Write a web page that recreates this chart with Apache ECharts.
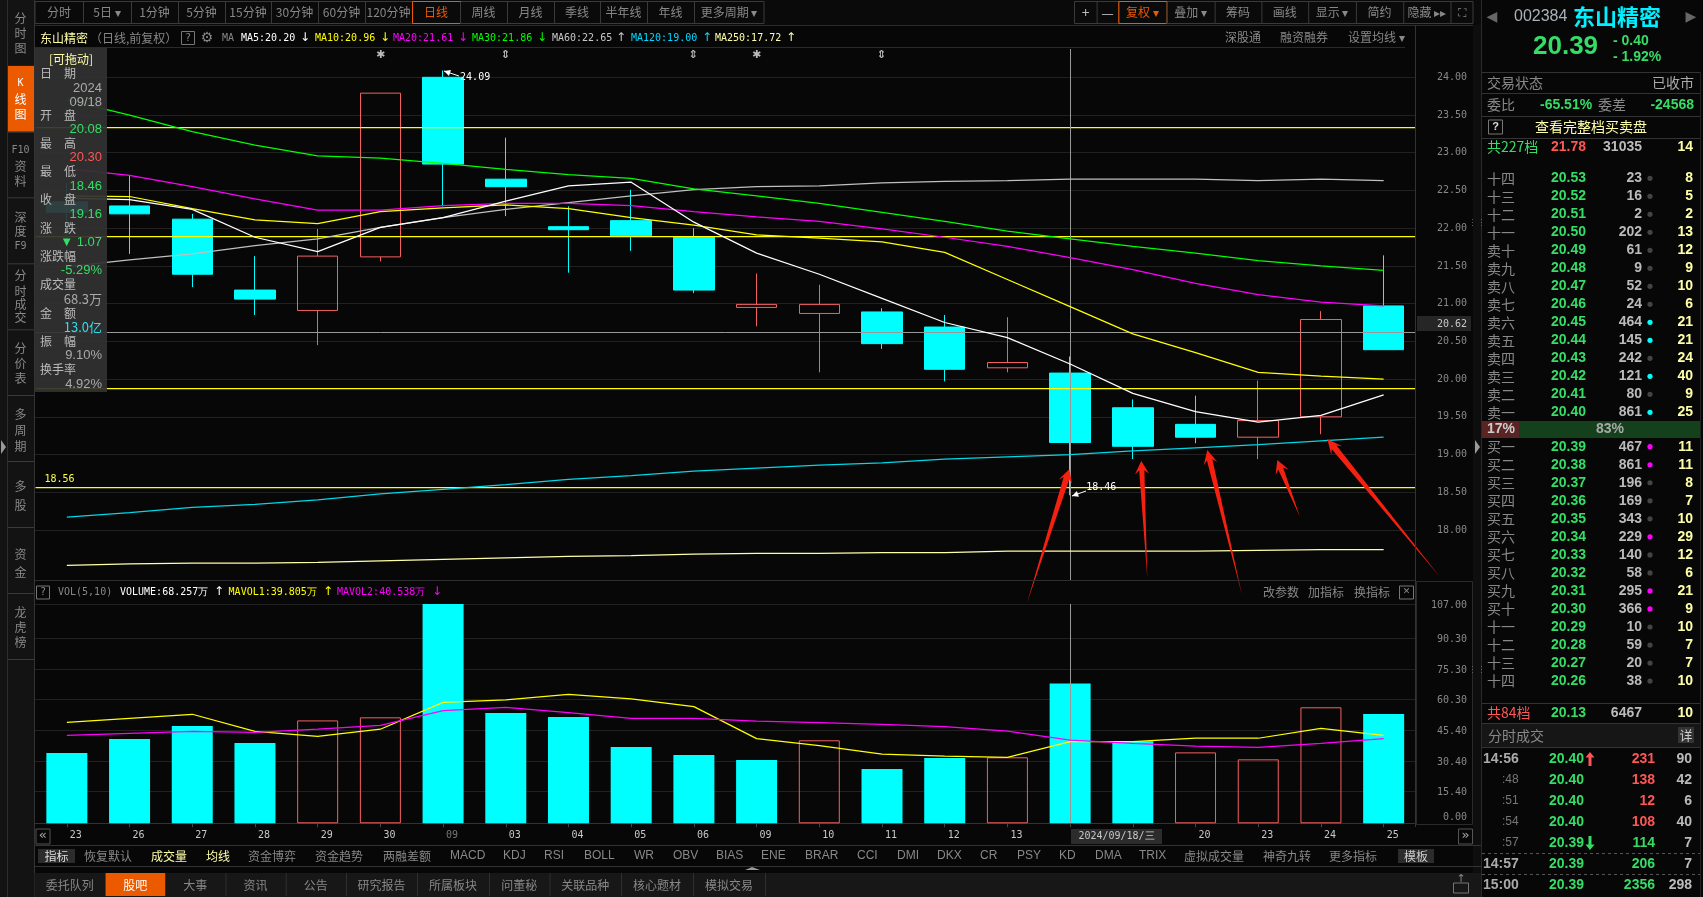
<!DOCTYPE html>
<html>
<head>
<meta charset="utf-8">
<title>东山精密 K线图</title>
<style>html,body{margin:0;padding:0;background:#070707;overflow:hidden}#c{width:1703px;height:897px}</style>
<script src="https://cdn.jsdelivr.net/npm/echarts@6/dist/echarts.min.js"></script>
</head>
<body>
<div id="c"></div>
<script>
// ---------- chart data ----------
const dates = ['23','26','27','28','29','30','09','03','04','05','06','09','10','11','12','13','18','19','20','23','24','25'];
const opens  = [22.35,22.295,22.12,21.18,20.91,21.62,24.00,22.65,22.02,22.10,21.88,20.95,20.87,20.89,20.69,20.15,20.08,19.62,19.40,19.23,19.50,20.97];
const closes = [22.21,22.19,21.39,21.06,21.63,23.79,22.85,22.55,21.98,21.90,21.18,20.99,20.99,20.47,20.13,20.22,19.16,19.11,19.23,19.45,20.79,20.39];
const lows   = [21.90,21.66,21.22,20.85,20.45,21.56,22.29,22.16,21.41,21.70,21.14,20.70,20.09,20.40,19.97,20.09,18.46,18.94,19.15,18.94,19.27,20.39];
const highs  = [22.60,22.70,22.19,21.63,21.99,23.79,24.09,23.20,22.29,22.51,22.00,21.40,21.25,20.94,20.85,20.82,20.30,19.73,19.78,19.98,20.90,21.64];
const ma5    = [22.40,22.38,22.25,21.88,21.69,22.01,22.14,22.36,22.56,22.61,22.08,21.67,21.39,21.07,20.75,20.55,20.20,19.81,19.57,19.43,19.52,19.79];
const ma10   = [22.43,22.42,22.26,22.11,22.06,22.22,22.27,22.31,22.26,22.14,22.04,21.91,21.87,21.82,21.68,21.32,20.96,20.60,20.35,20.09,20.04,20.00];
const ma20   = [22.79,22.70,22.55,22.39,22.24,22.24,22.30,22.33,22.33,22.30,22.22,22.15,22.09,21.99,21.88,21.76,21.61,21.45,21.27,21.12,21.02,20.97];
const ma30   = [23.70,23.50,23.28,23.10,22.96,22.93,22.86,22.78,22.71,22.66,22.52,22.43,22.33,22.21,22.09,21.96,21.86,21.76,21.67,21.57,21.50,21.44];
const ma60   = [21.49,21.58,21.66,21.77,21.86,22.01,22.14,22.25,22.34,22.43,22.51,22.55,22.56,22.60,22.62,22.63,22.65,22.65,22.65,22.63,22.65,22.63];
const ma120  = [18.17,18.23,18.30,18.34,18.40,18.48,18.54,18.60,18.67,18.72,18.78,18.82,18.86,18.89,18.94,18.97,19.00,19.05,19.09,19.13,19.18,19.23];
const ma250  = [17.53,17.55,17.56,17.56,17.57,17.59,17.61,17.63,17.65,17.66,17.68,17.69,17.69,17.70,17.70,17.72,17.72,17.72,17.72,17.73,17.74,17.74];
const volumes = [34.3,41.1,47.5,39.2,50.2,51.7,107,53.8,51.9,37.2,33.3,30.9,40.5,26.5,31.9,32.2,68.257,40.0,34.6,31.2,56.6,53.3];
const volumeRise = [0,0,0,0,1,1,0,0,0,0,0,0,1,0,0,1,0,0,1,1,1,0];
const mavol1  = [49.3,51.2,53.2,44.9,42.4,45.9,59.0,60.2,62.9,60.7,56.9,41.3,37.9,33.7,32.8,32.2,39.805,39.8,41.5,41.5,46.3,42.9];
const mavol2  = [42.9,43.9,44.9,44.4,46.0,47.8,55.0,56.6,54.0,51.2,51.2,49.9,49.1,48.3,47.2,45.0,40.538,39.0,37.6,37.1,39.0,41.3];
const priceTicks = [18,18.5,19,19.5,20,20.5,21,21.5,22,22.5,23,23.5,24];
const volTicks = [0,15.4,30.4,45.4,60.3,75.3,90.3,107];
const priceLevels = [23.34,21.89,19.88,18.56];
const lastPrice = 20.62;
const hoverIndex = 16, topIndex = 6;

// ---------- UI text tables ----------
const periodTabs = ['分时','5日 ▾','1分钟','5分钟','15分钟','30分钟','60分钟','120分钟','日线','周线','月线','季线','半年线','年线','更多周期 ▾'];
const toolTabs = ['+','—','复权 ▾','叠加 ▾','筹码','画线','显示 ▾','简约','隐藏 ▸▸','⛶'];
const sideTabs = ['分时图','K线图','F10资料','深度F9','分时成交','分价表','多周期','多股','资金','龙虎榜'];
const infoRows = [['日　期','2024','09/18'],['开　盘','20.08'],['最　高','20.30'],['最　低','18.46'],['收　盘','19.16'],['涨　跌','▼ 1.07'],['涨跌幅','-5.29%'],['成交量','68.3万'],['金　额','13.0亿'],['振　幅','9.10%'],['换手率','4.92%']];
const indicatorTabs = ['恢复默认','成交量','均线','资金博弈','资金趋势','两融差额','MACD','KDJ','RSI','BOLL','WR','OBV','BIAS','ENE','BRAR','CCI','DMI','DKX','CR','PSY','KD','DMA','TRIX','虚拟成交量','神奇九转','更多指标'];
const bottomTabs = ['委托队列','股吧','大事','资讯','公告','研究报告','所属板块','问董秘','关联品种','核心题材','模拟交易'];
const sellNames = ['十四','十三','十二','十一','卖十','卖九','卖八','卖七','卖六','卖五','卖四','卖三','卖二','卖一'];
const sellPrices = ['20.53','20.52','20.51','20.50','20.49','20.48','20.47','20.46','20.45','20.44','20.43','20.42','20.41','20.40'];
const sellVols = ['23','16','2','202','61','9','52','24','464','145','242','121','80','861'];
const sellCounts = ['8','5','2','13','12','9','10','6','21','21','24','40','9','25'];
const sellLit = [0,0,0,0,0,0,0,0,1,1,0,1,0,1];
const buyNames = ['买一','买二','买三','买四','买五','买六','买七','买八','买九','买十','十一','十二','十三','十四'];
const buyPrices = ['20.39','20.38','20.37','20.36','20.35','20.34','20.33','20.32','20.31','20.30','20.29','20.28','20.27','20.26'];
const buyVols = ['467','861','196','169','343','229','140','58','295','366','10','59','20','38'];
const buyCounts = ['11','11','8','7','10','29','12','6','21','9','10','7','7','10'];
const buyLit = [1,1,0,0,0,1,0,0,1,1,0,0,0,0];
const tradeTimes = ['14:56',':48',':51',':54',':57','14:57','15:00'];
const tradePrices = ['20.40','20.40','20.40','20.40','20.39','20.39','20.39'];
const tradeVols = ['231','138','12','108','114','206','2356'];
const tradeCounts = ['90','42','6','40','7','7','298'];
const tradeUp = [1,1,1,1,0,0,0];

// ---------- colours / fonts ----------
const BG='#070707', UP='#f46060', DOWN='#00ffff', GREEN='#35dd66', RED='#ff5555', PALE='#ffffa8', GRAY='#888888', LINE='#333333';
const CJK='"Noto Sans CJK SC"', LAT='"Liberation Sans"', MONO='"DejaVu Sans Mono"';
const gridL=35.5, gridR=1415, pTop=49, pBot=580, vTop=604, vBot=823.3;

// ---------- chrome helpers ----------
const els=[];
const rect=(x,y,w,h,fill,stroke)=>els.push({type:'rect',z:100,silent:true,shape:{x,y,width:w,height:h},style:{fill:fill||'none',stroke:stroke||null,lineWidth:1}});
const hl=(x1,x2,y,c)=>rect(x1,y,x2-x1,1,c||LINE);
const vl=(x,y1,y2,c)=>rect(x,y1,1,y2-y1,c||LINE);
const txt=(x,y,s,c,size,font,align,weight)=>els.push({type:'text',z:101,silent:true,x,y,style:{text:s,fill:c||GRAY,font:(weight||'normal')+' '+(size||12)+'px '+(font||CJK),textAlign:align||'left',textVerticalAlign:'middle',align:align||'left',verticalAlign:'middle'}});
const dot=(x,y,c)=>els.push({type:'circle',z:101,silent:true,shape:{cx:x,cy:y,r:2.6},style:{fill:c}});
const poly=(pts,c,z)=>els.push({type:'polygon',z:z||90,silent:true,shape:{points:pts},style:{fill:c}});
function arrow(tip,tail,barb,head,shaft){
  const dx=tail[0]-tip[0],dy=tail[1]-tip[1],l=Math.hypot(dx,dy),ux=dx/l,uy=dy/l,nx=-uy,ny=ux;
  const at=(d,s)=>[tip[0]+ux*d+nx*s,tip[1]+uy*d+ny*s];
  poly([tip,at(head,barb),at(head*0.72,shaft),tail,at(head*0.72,-shaft),at(head,-barb)],'#f5200f');
}
function tinyArrow(x1,y1,x2,y2){ // white leader with small head at x2,y2
  els.push({type:'line',z:101,silent:true,shape:{x1,y1,x2,y2},style:{stroke:'#fff',lineWidth:1}});
  const a=Math.atan2(y1-y2,x1-x2);
  poly([[x2,y2],[x2+7*Math.cos(a-0.45),y2+7*Math.sin(a-0.45)],[x2+7*Math.cos(a+0.45),y2+7*Math.sin(a+0.45)]],'#fff');
}
function fatArrow(x,y,dir,c){ // dir -1 = up, +1 = down
  poly([[x,y+7*dir],[x-4.5,y+1.5*dir],[x-1.5,y+1.5*dir],[x-1.5,y-7*dir],[x+1.5,y-7*dir],[x+1.5,y+1.5*dir],[x+4.5,y+1.5*dir]],c,102);
}

// --- red hand-drawn arrows over the chart
arrow([1069.3,469.3],[1027,603],7,13,3);
arrow([1141.3,461],[1147.3,578],7,13,2.6);
arrow([1207.3,450],[1242,595],7,14,2.8);
arrow([1277.3,460],[1300,517],7,13,2.6);
arrow([1327.3,439],[1440,577],7,15,3);
tinyArrow(459,76,444,71);
tinyArrow(1086,491,1072,496);

// --- event markers above the candles
[[380.6,'✱'],[505.6,'⇕'],[693.4,'⇕'],[756.6,'✱'],[881.5,'⇕']].forEach(m=>txt(m[0],55,m[1],'#bbbbbb',11,'"DejaVu Sans"','center','bold'));

// --- top toolbar
rect(0,0,1703,25,'#0a0a0a');
hl(0,1481,25,'#2a2a2a');
const periodEdges=[35,83,131,178,225,271,318,365,412,460,507,554,600,647,694,764];
rect(35,1.5,729,22,null,'#3a3a3a');
periodTabs.forEach((s,i)=>{
  const a=periodEdges[i],b=periodEdges[i+1];
  if(i>0) vl(a,2,24,'#3a3a3a');
  if(s==='日线') rect(a+.5,1.5,b-a,22,null,'#ec5a00');
  txt((a+b)/2,12.5,s,s==='日线'?'#ec5a00':GRAY,12,CJK,'center');
});
const toolEdges=[1074.5,1096.6,1118.3,1166.4,1214.6,1261.4,1308.2,1355.9,1403.2,1450.5,1473];
rect(1074.5,1.5,398.5,22,null,'#3a3a3a');
toolTabs.forEach((s,i)=>{
  const a=toolEdges[i],b=toolEdges[i+1];
  if(i>0) vl(a,2,24,'#3a3a3a');
  if(s.startsWith('复权')) rect(a+.5,1.5,b-a,22,null,'#ec5a00');
  txt((a+b)/2,12.5,s,s.startsWith('复权')?'#ec5a00':(i<2?'#bbbbbb':GRAY),i<2?14:12,CJK,'center');
});

// --- left sidebar
rect(0,0,34.5,897,'#131313');
vl(7,0,897,'#2e2e2e');
vl(34,0,897,'#333333');
const sideY=[[18,33,48],[83,99,114],[150,166,181],[217,231,246],[275,291,304,317],[348,363,378],[414,430,446],[486,505],[554,572],[612,627,642]];
[65.7,131.7,197.3,263.3,329.3,395,461,527,593,659].forEach(y=>hl(8,34,y,'#3a3a3a'));
rect(8,66,26,65.5,'#ec5a00');
sideTabs.forEach((s,i)=>{
  let chars=Array.from(s);
  if(s==='F10资料') chars=['F10','资','料'];
  if(s==='深度F9') chars=['深','度','F9'];
  chars.forEach((c,j)=>txt(20.5,sideY[i][j],c,i===1?'#ffffff':GRAY,/[A-Z0-9]/.test(c)?10:12,/[A-Z0-9]/.test(c)?MONO:CJK,'center'));
});
poly([[1,440],[6,447],[1,454]],'#9a9a9a',102);

// --- chart header rows
txt(40,38,'东山精密',PALE,12);
txt(90,38,'（日线,前复权）',GRAY,12);
rect(181.5,31.5,13,13,null,'#777');txt(188,38,'?',GRAY,10,MONO,'center');
txt(207,38,'⚙',GRAY,14,'"DejaVu Sans"','center');
txt(222,38,'MA',GRAY,10,MONO);
[[241,'MA5:20.20','#ffffff',305,'↓'],[315,'MA10:20.96','#ffff00',385,'↓'],[393,'MA20:21.61','#ff00ff',463,'↓'],[472,'MA30:21.86','#00ff00',542,'↓'],[552,'MA60:22.65','#c8c8c8',621,'↑'],[631,'MA120:19.00','#00d8ff',707,'↑'],[715,'MA250:17.72','#ffffa8',791,'↑']].forEach(m=>{
  txt(m[0],38,m[1],m[2],10,MONO);txt(m[3],38,m[4],m[2],12,'"DejaVu Sans"','center');
});
txt(1225,37,'深股通',GRAY,12);txt(1280,37,'融资融券',GRAY,12);txt(1348,37,'设置均线 ▾',GRAY,12);
hl(35,1405,47,'#2a2a2a');

// --- volume pane header
hl(35,1415,580,'#2e2e2e');
rect(36.5,586,13,13,null,'#777');txt(43,592.5,'?',GRAY,10,MONO,'center');
txt(58,592,'VOL(5,10)',GRAY,10,MONO);
[[120,'VOLUME:68.257万','#ffffff',219,'↑'],[228.6,'MAVOL1:39.805万','#ffff00',328,'↑'],[337,'MAVOL2:40.538万','#ff00ff',437,'↓']].forEach(m=>{
  txt(m[0],592,m[1],m[2],10,MONO);txt(m[3],592,m[4],m[2],12,'"DejaVu Sans"','center');
});
txt(1263,592,'改参数',GRAY,12);txt(1308,592,'加指标',GRAY,12);txt(1354,592,'换指标',GRAY,12);
rect(1399.5,586,14,13,null,'#777');txt(1406.5,592,'✕',GRAY,9,'"DejaVu Sans"','center');

// --- axis column frames
vl(1415,25,827,'#333333');
rect(1416.5,581.5,56,243,null,'#2a2a2a');
rect(1473,25,8,872,'#0e0e0e');
vl(1481,0,897,'#2a2a2a');
[224,671].forEach(y=>txt(1477,y,'⋮⋮','#666',9,MONO,'center'));
poly([[1475,440],[1480,447],[1475,454]],'#9a9a9a',102);

// --- last price tag + hover date tag
rect(1417,316,54,15,'#262626');
txt(1467,324,lastPrice.toFixed(2),'#c8c8c8',10,MONO,'right');
rect(1071,829,91,15,'#2c2c2c');
txt(1116.5,836.5,'2024/09/18/三','#c8c8c8',10,MONO,'center');

// --- paging buttons
rect(36,829,14,15,null,'#555');txt(43,836,'«','#aaa',13,MONO,'center');
rect(1458.5,829,14,15,null,'#555');txt(1465.5,836,'»','#aaa',13,MONO,'center');

// --- indicator tabs
hl(35,1481,845,'#333');hl(35,1481,866,'#333');
rect(38,849,37,14,'#2c2c2c');txt(56.5,856,'指标','#dddddd',12,CJK,'center');
const indicatorX=[84,151,206,248,315,383,450,503,544,584,634,673,716,761,805,857,897,937,980,1017,1059,1095,1139,1184,1263,1329];
indicatorTabs.forEach((s,i)=>{
  const c=(s==='成交量'||s==='均线')?PALE:GRAY;
  txt(indicatorX[i],856,s,c,12,/[A-Z]/.test(s)?LAT:CJK);
});
rect(1398,849,36,14,'#2c2c2c');txt(1416,856,'模板','#cccccc',12,CJK,'center');

// --- bottom tabs
rect(34.5,873,1446.5,24,'#171717');
const bottomEdges=[34,105.6,165,225.5,285.7,346,417,489,549.5,621,693,765];
bottomTabs.forEach((s,i)=>{
  const a=bottomEdges[i],b=bottomEdges[i+1];
  if(s==='股吧') rect(a,873,b-a,23,'#ec5a00');
  vl(b,873,896,'#2e2e2e');
  txt((a+b)/2,885,s,s==='股吧'?'#ffffff':GRAY,12,CJK,'center');
});
rect(1453.5,883,15,10,null,'#777');txt(1461,879,'↑','#888',11,'"DejaVu Sans"','center');
poly([[745,870],[760,870],[752,867]],'#999',102);

// --- info panel (translucent, on top of the plot)
rect(35,48,72,344,'rgba(50,50,50,0.93)');
txt(71,59,'[可拖动]',PALE,12,CJK,'center');
txt(40,73,infoRows[0][0],'#bbbbbb',12);
txt(102,88,'2024','#aaaaaa',13,LAT,'right');
txt(102,102,'09/18','#aaaaaa',13,LAT,'right');
const infoColors=[,GREEN,RED,GREEN,GREEN,GREEN,GREEN,'#aaaaaa','#33ddee','#aaaaaa','#aaaaaa'];
infoRows.slice(1).forEach((r,i)=>{
  const y=115+i*28.3;
  txt(40,y,r[0],'#bbbbbb',12);
  txt(102,y+14.4,r[1],infoColors[i+1],13,/[万亿]/.test(r[1])?CJK:LAT,'right');
});

// --- right order-book panel
rect(1482,0,221,897,BG);
txt(1492,17,'◀','#666',14,'"DejaVu Sans"','center');
txt(1514,17,'002384','#aab0bb',16,LAT);
txt(1573,17,'东山精密','#00f0ff',22,CJK,'left','bold');
txt(1691,17,'▶','#666',14,'"DejaVu Sans"','center');
txt(1533,47,'20.39',GREEN,26,LAT,'left','bold');
txt(1613,41,'- 0.40',GREEN,14,LAT,'left','bold');
txt(1613,57,'- 1.92%',GREEN,14,LAT,'left','bold');
[72,93,116,138,703].forEach(y=>hl(1482,1700,y,'#333'));
vl(1700,72,897,'#222');
txt(1487,83,'交易状态',GRAY,14);txt(1694,83,'已收市','#aaaaaa',14,CJK,'right');
txt(1487,105,'委比',GRAY,14);txt(1540,105,'-65.51%',GREEN,14,LAT,'left','bold');
txt(1598,105,'委差',GRAY,14);txt(1694,105,'-24568',GREEN,14,LAT,'right','bold');
rect(1488.5,120,14,14,null,'#777');txt(1495.5,127,'?','#dddddd',11,LAT,'center','bold');
txt(1535,127,'查看完整档买卖盘',PALE,14);
const bookRow=(y,name,nameC,price,priceC,vol,cnt)=>{
  txt(1487,y,name,nameC,14);txt(1551,y,price,priceC,14,LAT,'left','bold');
  txt(1642,y,vol,'#bbbbbb',14,LAT,'right','bold');txt(1693,y,cnt,PALE,14,LAT,'right','bold');
};
bookRow(147,'共227档',GREEN,'21.78',RED,'31035','14');
sellNames.forEach((n,i)=>{const y=178.3+i*18;bookRow(y,n,GRAY,sellPrices[i],GREEN,sellVols[i],sellCounts[i]);dot(1650,y,sellLit[i]?'#00ffff':'#444');});
rect(1482,421,37,17,'#5a2424');rect(1519,421,181,17,'#14401c');
txt(1501,429.5,'17%','#cccccc',14,LAT,'center','bold');txt(1610,429.5,'83%','#aaaaaa',14,LAT,'center','bold');
buyNames.forEach((n,i)=>{const y=446.7+i*18.03;bookRow(y,n,GRAY,buyPrices[i],GREEN,buyVols[i],buyCounts[i]);dot(1650,y,buyLit[i]?'#ff00ff':'#444');});
bookRow(713,'共84档',RED,'20.13',GREEN,'6467','10');
rect(1482,723,218,25,'#161616');hl(1482,1700,723,'#333');hl(1482,1700,747,'#333');
txt(1488,736,'分时成交',GRAY,14);
rect(1678,727,16,16,'#333');txt(1686,735,'详','#cccccc',13,CJK,'center');
tradeTimes.forEach((tm,i)=>{
  const y=759+i*21,c=tradeUp[i]?RED:GREEN;
  if(tm[0]===':') txt(1502,y,tm,'#777',12,LAT); else txt(1483,y,tm,'#aaaaaa',14,LAT,'left','bold');
  txt(1549,y,tradePrices[i],GREEN,14,LAT,'left','bold');
  txt(1655,y,tradeVols[i],c,14,LAT,'right','bold');
  txt(1692,y,tradeCounts[i],'#bbbbbb',14,LAT,'right','bold');
});
fatArrow(1590,759,-1,RED);
fatArrow(1590,843,1,GREEN);
[853,874].forEach(y=>els.push({type:'line',z:100,silent:true,shape:{x1:1482,y1:y+.5,x2:1700,y2:y+.5},style:{stroke:'#555',lineDash:[3,3],lineWidth:1}}));

// ---------- chart ----------
const cats=dates.map((d,i)=>i);
const lineS=(name,data,color,xi)=>({name,type:'line',data,xAxisIndex:xi,yAxisIndex:xi,symbol:'none',silent:true,z:5,lineStyle:{width:1.25,color},itemStyle:{color},animation:false});
const priceTop=24+(77.3-pTop)/75.45, priceBottom=24-(pBot-77.3)/75.45;
const axisFont={fontFamily:MONO,fontSize:10};
const refLine=(xi,data)=>({type:'line',xAxisIndex:xi,yAxisIndex:xi,data:[],z:8,silent:true,animation:false,markLine:{symbol:'none',silent:true,animation:false,precision:2,data}});

const chart=echarts.init(document.getElementById('c'));
chart.setOption({
  animation:false,
  backgroundColor:BG,
  grid:[
    {left:gridL,width:gridR-gridL,top:pTop,height:pBot-pTop},
    {left:gridL,width:gridR-gridL,top:vTop,height:vBot-vTop}
  ],
  xAxis:[
    {type:'category',gridIndex:0,data:cats,show:false,boundaryGap:true},
    {type:'category',gridIndex:1,data:cats,boundaryGap:true,offset:3,
     axisLine:{lineStyle:{color:'#333'}},
     axisTick:{show:true,alignWithLabel:true,length:4,lineStyle:{color:'#444'}},
     axisLabel:{interval:0,margin:4,align:'left',padding:[0,0,0,3],...axisFont,
       formatter:(v,i)=>dates[i],
       color:(v,i)=>i===topIndex?'#777777':'#c8c8c8'}}
  ],
  yAxis:[
    {type:'value',gridIndex:0,position:'right',min:priceBottom,max:priceTop,
     axisLine:{show:false},axisTick:{show:false,customValues:priceTicks},
     axisLabel:{customValues:priceTicks,align:'right',margin:52,padding:[2,0,0,0],color:'#888888',...axisFont,formatter:v=>v.toFixed(2)},
     splitLine:{show:true,lineStyle:{color:'#3c3c3c',type:'dotted',width:1}}},
    {type:'value',gridIndex:1,position:'right',min:0,max:107,
     axisLine:{show:false},axisTick:{show:false,customValues:volTicks},
     axisLabel:{customValues:volTicks,align:'right',margin:52,padding:[2,0,0,0],color:'#888888',...axisFont,
       formatter:v=>v===0?'{z|0.00}':v.toFixed(2),
       rich:{z:{...axisFont,color:'#888888',padding:[0,0,14,0]}}},
     splitLine:{show:true,lineStyle:{color:'#3c3c3c',type:'dotted',width:1}}}
  ],
  series:[
    {name:'K',type:'candlestick',xAxisIndex:0,yAxisIndex:0,z:3,barWidth:41,silent:true,animation:false,
     data:cats.map(i=>[opens[i],closes[i],lows[i],highs[i]]),
     itemStyle:{color:'rgba(0,0,0,0)',color0:DOWN,borderColor:UP,borderColor0:DOWN,borderWidth:1},
     markPoint:{silent:true,animation:false,symbol:'circle',symbolSize:0,
       data:[
         {coord:[topIndex,highs[topIndex]],value:highs[topIndex],label:{show:true,position:'right',distance:17,offset:[0,7],formatter:String(highs[topIndex].toFixed(2)),color:'#ffffff',...axisFont}},
         {coord:[hoverIndex,lows[hoverIndex]],value:lows[hoverIndex],label:{show:true,position:'right',distance:16,offset:[0,-8],formatter:String(lows[hoverIndex].toFixed(2)),color:'#ffffff',...axisFont}}
       ]}},
    lineS('MA250',ma250,'#ffffa8',0),
    lineS('MA120',ma120,'#00d8e8',0),
    lineS('MA60',ma60,'#c0c0c0',0),
    lineS('MA30',ma30,'#00ff00',0),
    lineS('MA20',ma20,'#ff00ff',0),
    lineS('MA10',ma10,'#ffff00',0),
    lineS('MA5',ma5,'#ffffff',0),
    refLine(0,[
      ...priceLevels.map((v,i)=>({yAxis:v,lineStyle:{color:'#ffff00',width:1.25,type:'solid'},
        label:i===3?{show:true,position:'insideStartTop',distance:[9,3],formatter:v.toFixed(2),color:'#ffff40',...axisFont}:{show:false}})),
      {yAxis:lastPrice,lineStyle:{color:'#999999',width:1,type:'solid'},label:{show:false}},
      {xAxis:hoverIndex,lineStyle:{color:'#999999',width:1,type:'solid'},label:{show:false}}
    ]),
    {name:'VOL',type:'bar',xAxisIndex:1,yAxisIndex:1,z:3,barWidth:41,silent:true,animation:false,
     data:cats.map(i=>({value:volumes[i],itemStyle:volumeRise[i]?{color:'rgba(0,0,0,0)',borderColor:UP,borderWidth:1}:{color:DOWN}}))},
    lineS('MAVOL1',mavol1,'#ffff00',1),
    lineS('MAVOL2',mavol2,'#ff00ff',1),
    refLine(1,[{xAxis:hoverIndex,lineStyle:{color:'#999999',width:1,type:'solid'},label:{show:false}}])
  ],
  graphic:{elements:els}
});
</script>
</body>
</html>
